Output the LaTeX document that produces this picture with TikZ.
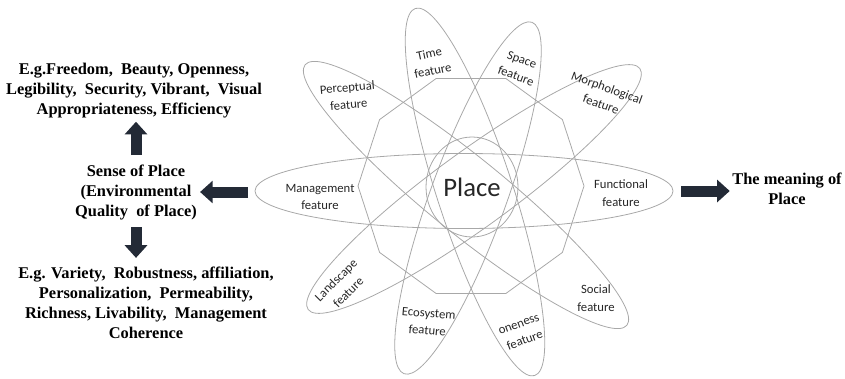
\documentclass[tikz,border=0pt]{standalone}
\usepackage{fontspec}
\setmainfont{Liberation Serif}
\newfontfamily\featfont{Carlito}
\usepackage{tikz}
\usetikzlibrary{arrows.meta}
\usetikzlibrary{shapes}

\definecolor{petalgray}{RGB}{168,168,168}
\definecolor{arrownavy}{RGB}{35,42,54}

\begin{document}
\begin{tikzpicture}[x=0.75pt,y=0.75pt,yscale=-1,xscale=1,
	petal/.style={draw=petalgray, line width=0.6pt},
	featlabel/.style={inner sep=0.75pt, align=center, text=black!85, font=\featfont\fontsize{9.5}{13}\selectfont},
	boldtext/.style={inner sep=0.75pt, align=center, font=\fontsize{12.3}{15}\selectfont\bfseries},
	blockarrow/.style={draw=arrownavy, line width=8.25pt, -{Triangle[length=9.5pt,width=16.5pt]}}]
			\useasboundingbox (0,0) rectangle (845,378);
			
			%Shape: Ellipse [Management - Functional]
			\draw  [petal] (464,191) ellipse [x radius=209, y radius=37.5];
			%Shape: Ellipse [Perceptual - Social]
			\draw  [petal, rotate around={39:(466,195)}] (466,195) ellipse [x radius=207, y radius=38];
			%Shape: Ellipse [Time - oneness]
			\draw  [petal, rotate around={72:(475,192)}] (475,192) ellipse [x radius=193, y radius=38];
			%Shape: Ellipse [Space - Ecosystem]
			\draw  [petal, rotate around={-70:(468,198)}] (468,198) ellipse [x radius=187, y radius=38];
			%Shape: Ellipse [Morphological - Landscape]
			\draw  [petal, rotate around={-36:(474,189)}] (474,189) ellipse [x radius=205, y radius=38];
			%Shape: Decagon
			\draw (471,186) node [petal, regular polygon, regular polygon sides=10, minimum size=169.5pt, inner sep=0pt, outer sep=0pt] (deca) {};
			
			% Text Node
			\draw (472,187) node [petal, ellipse, minimum width=69pt, minimum height=75pt, inner sep=0pt, text=black!85, font=\featfont\fontsize{20}{24}\selectfont] (place) {Place};
			
			% Text Node
			\draw (348,96) node [featlabel, rotate=5] (perc) {Perceptual\\feature};
			% Text Node
			\draw (431,62) node [featlabel, rotate=12] (time) {Time\\feature};
			% Text Node
			\draw (519,68) node [featlabel, rotate=-20] (space) {Space\\feature};
			% Text Node
			\draw (604,96) node [featlabel, rotate=-20] (morph) {Morphological\\feature};
			% Text Node
			\draw (621,193) node [featlabel] (func) {Functional\\feature};
			% Text Node
			\draw (596,298) node [featlabel] (social) {Social\\feature};
			% Text Node
			\draw (522,333) node [featlabel, rotate=20] (oneness) {oneness\\feature};
			% Text Node
			\draw (428,322) node [featlabel, rotate=-5] (eco) {Ecosystem\\feature};
			% Text Node
			\draw (342,286) node [featlabel, rotate=45] (land) {Landscape\\feature};
			% Text Node
			\draw (320,197) node [featlabel] (mgmt) {Management\\feature};
			
			% Text Node
			\draw (134,91) node [boldtext] (topblk) {E.g.Freedom,~ Beauty, Openness,\\Legibility,~ Security, Vibrant,~ Visual\\Appropriateness, Efficiency};
			% Text Node
			\draw (136,192) node [boldtext] (sense) {Sense of Place\\(Environmental\\Quality~ of Place)};
			% Text Node
			\draw (146,303) node [boldtext] (botblk) {E.g. Variety,~ Robustness, affiliation,\\Personalization,~ Permeability,\\Richness, Livability,~ Management\\Coherence};
			% Text Node
			\draw (787,189) node [boldtext] (meaning) {The meaning of\\Place};
			
			\coordinate (mgmtend) at (248,192);
			\coordinate (funcend) at (681,191);
			
			%Arrows
			\draw [blockarrow, shorten <=6pt, shorten >=1.5pt] (sense.north) -- (sense.north |- topblk.south);
			\draw [blockarrow, shorten <=4.8pt, shorten >=6pt] (sense.south) -- (sense.south |- botblk.north);
			\draw [blockarrow, shorten >=1.5pt] (mgmtend) -- (sense.east);
			\draw [blockarrow, shorten >=1pt] (funcend) -- (funcend -| meaning.west);
			
\end{tikzpicture}
\end{document}
